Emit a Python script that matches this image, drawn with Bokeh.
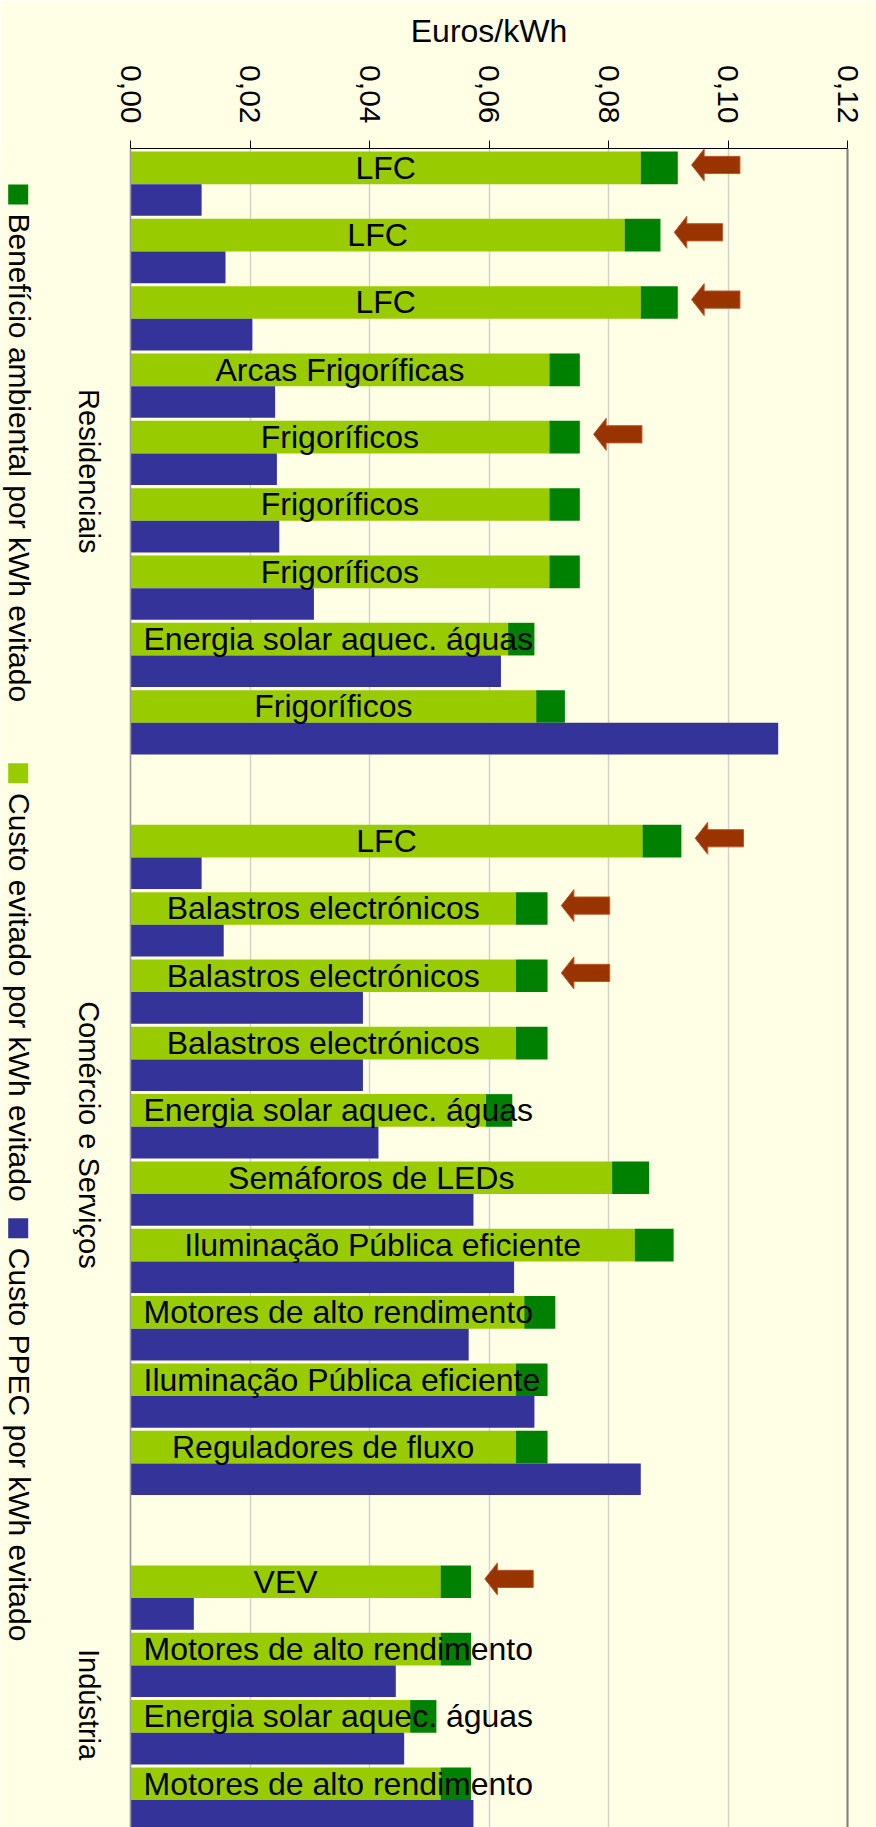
import math
from bokeh.plotting import figure
from bokeh.models import Range1d, FixedTicker, Span, ColumnDataSource, Title
from bokeh.core.properties import value
from bokeh.embed import file_html
from bokeh.resources import INLINE

# ---------------- data ----------------
GROUPS = ["Residenciais", "Comércio e Serviços", "Indústria"]
ROW_GROUP = [0] * 9 + [1] * 10 + [2] * 4
MEASURES = [
    "LFC", "LFC", "LFC", "Arcas Frigoríficas", "Frigoríficos", "Frigoríficos",
    "Frigoríficos", "Energia solar aquec. águas", "Frigoríficos",
    "LFC", "Balastros electrónicos", "Balastros electrónicos", "Balastros electrónicos",
    "Energia solar aquec. águas", "Semáforos de LEDs", "Iluminação Pública eficiente",
    "Motores de alto rendimento", "Iluminação Pública eficiente", "Reguladores de fluxo",
    "VEV", "Motores de alto rendimento", "Energia solar aquec. águas",
    "Motores de alto rendimento",
]
CUSTO_EVITADO = [
    0.0854, 0.0827, 0.0854, 0.0701, 0.0701, 0.0701, 0.0701, 0.0632, 0.0679,
    0.0857, 0.0645, 0.0645, 0.0645, 0.0595, 0.0806, 0.0844, 0.0659, 0.0645, 0.0645,
    0.0519, 0.0519, 0.0468, 0.0519,
]
BENEFICIO = [
    0.0062, 0.0060, 0.0062, 0.0051, 0.0051, 0.0051, 0.0051, 0.0044, 0.0048,
    0.0065, 0.0053, 0.0053, 0.0053, 0.0044, 0.0062, 0.0065, 0.0052, 0.0053, 0.0053,
    0.0051, 0.0051, 0.0044, 0.0051,
]
CUSTO_PPEC = [
    0.0119, 0.0159, 0.0204, 0.0242, 0.0245, 0.0249, 0.0307, 0.0620, 0.1084,
    0.0119, 0.0156, 0.0389, 0.0389, 0.0415, 0.0574, 0.0642, 0.0566, 0.0676, 0.0854,
    0.0106, 0.0444, 0.0458, 0.0574,
]
HIGHLIGHT = [
    1, 1, 1, 0, 1, 0, 0, 0, 0,
    1, 1, 1, 0, 0, 0, 0, 0, 0, 0,
    1, 0, 0, 0,
]
SERIES_NAMES = [
    "Benefício ambiental por kWh evitado",
    "Custo evitado por kWh evitado",
    "Custo PPEC por kWh evitado",
]
TICKS = [0.0, 0.02, 0.04, 0.06, 0.08, 0.10, 0.12]
TICK_LABELS = ["0,00", "0,02", "0,04", "0,06", "0,08", "0,10", "0,12"]
AXIS_TITLE = "Euros/kWh"

# ---------------- styles / layout ----------------
C_LIGHT = "#99CC00"
C_DARK = "#008000"
C_BLUE = "#333399"
C_ARROW = "#993300"
BG = "#FFFFE6"
FONT = "Liberation Sans"

W, H = 876, 1827
XPX = 717 / 0.12          # pixels per data unit along x
SLOT = 67.37              # pixels per row slot
ORIGIN_X = 130            # px of x=0
ORIGIN_Y = 150            # px of slot 0 top
TOP = 147                 # px of frame top (axis line)


def fx(px):  # pixel -> data x
    return (px - ORIGIN_X) / XPX


def fy(py):  # pixel -> slot units
    return (py - ORIGIN_Y) / SLOT


AW = {" ": 278, ".": 278, "/": 278, "A": 667, "B": 667, "C": 722, "D": 722, "E": 667,
      "F": 611, "I": 278, "L": 556, "M": 833, "P": 667, "R": 722, "S": 667, "V": 667,
      "W": 944, "c": 500, "ç": 500, "f": 278, "i": 222, "í": 278, "k": 500, "l": 222,
      "m": 833, "r": 333, "s": 500, "t": 278, "x": 500}


def text_w(s, size):
    return sum(AW.get(ch, 556) for ch in s) / 1000 * size


slots = [i + g for i, g in enumerate(ROW_GROUP)]
totals = [a + b for a, b in zip(CUSTO_EVITADO, BENEFICIO)]

p = figure(width=W, height=H, output_backend="svg", toolbar_location=None,
           x_axis_location="above", y_axis_location=None,
           x_range=Range1d(fx(0), fx(W)),
           y_range=Range1d(fy(H), fy(TOP)),
           min_border_left=0, min_border_right=0, min_border_bottom=0,
           min_border_top=TOP)
p.background_fill_color = BG
p.border_fill_color = BG
p.outline_line_color = None
p.ygrid.visible = False

# grid
p.xgrid.ticker = FixedTicker(ticks=TICKS)
p.xgrid.bounds = (0.01, 0.11)
p.xgrid.grid_line_color = "#D2D2CA"
p.xgrid.grid_line_width = 1.5
p.add_layout(Span(location=0.0, dimension="height", line_color="#9A9A9A", line_width=1.5))
p.add_layout(Span(location=TICKS[-1], dimension="height", line_color="#808080", line_width=2))

# axis
ax = p.xaxis[0]
ax.ticker = FixedTicker(ticks=TICKS)
ax.major_label_overrides = dict(zip(TICKS, TICK_LABELS))
ax.bounds = (TICKS[0], TICKS[-1])
ax.major_label_orientation = -math.pi / 2
ax.major_label_text_font = FONT
ax.major_label_text_font_size = "30px"
ax.major_label_text_color = "black"
ax.major_label_standoff = 17
ax.major_tick_out = 8
ax.major_tick_in = 0
ax.major_tick_line_color = "black"
ax.minor_tick_line_color = None
ax.axis_line_color = "black"
ax.axis_line_width = 1

# axis title, centred over the 0..0.12 span of the axis
TITLE_SIZE = 32
span_mid_px = ORIGIN_X + (TICKS[0] + TICKS[-1]) / 2 * XPX
p.add_layout(Title(text=AXIS_TITLE, align="left", vertical_align="top",
                   offset=span_mid_px - text_w(AXIS_TITLE, TITLE_SIZE) / 2,
                   text_font=FONT, text_font_size="%dpx" % TITLE_SIZE,
                   text_line_height=0.8,
                   text_font_style="normal", text_color="black", standoff=24), "above")

# bars
GH, BH = 0.485, 0.47
src = ColumnDataSource(dict(
    yg=[s + GH / 2 for s in slots],
    yb=[s + GH + BH / 2 for s in slots],
    light=CUSTO_EVITADO, total=totals, ppec=CUSTO_PPEC,
))
p.hbar(y="yg", left=0, right="light", height=GH, fill_color=C_LIGHT, line_color=None, source=src)
p.hbar(y="yg", left="light", right="total", height=GH, fill_color=C_DARK, line_color=None, source=src)
p.hbar(y="yb", left=0, right="ppec", height=BH, fill_color=C_BLUE, line_color=None, source=src)

# arrows pointing at highlighted measures
GAP, HEAD, LEN = 0.0023, 12.6 / XPX, 0.0081
HH, SH = 16 / SLOT, 8.6 / SLOT
axs, ays = [], []
for s, t, h in zip(slots, totals, HIGHLIGHT):
    if not h:
        continue
    tx = t + GAP
    cy = s + 0.20
    hx, tail = tx + HEAD, tx + LEN
    axs.append([tx, hx, hx, tail, tail, hx, hx])
    ays.append([cy, cy - HH, cy - SH, cy - SH, cy + SH, cy + SH, cy + HH])
p.patches(axs, ays, fill_color=C_ARROW, line_color="#B8592A", line_width=1)

# bar labels (centred on the light segment, or pushed to the base when too long)
LBL = 32
PAD = 13 / XPX
cx, cy_, ct, lx, ly, lt = [], [], [], [], [], []
for s, m, a in zip(slots, MEASURES, CUSTO_EVITADO):
    half = text_w(m, LBL) / 2 / XPX
    if a / 2 - half >= PAD:
        cx.append(a / 2); cy_.append(s + GH / 2); ct.append(m)
    else:
        lx.append(PAD); ly.append(s + GH / 2); lt.append(m)
common = dict(text_font=value(FONT), text_font_size="%dpx" % LBL, text_color="black",
              text_baseline="middle")
p.text(x=cx, y=cy_, text=ct, text_align="center", **common)
p.text(x=lx, y=ly, text=lt, text_align="left", **common)

# group labels (rotated)
GROUP_CENTER_PX = [470, 1134, 1704]
p.text(x=[fx(88)] * 3, y=[fy(v) for v in GROUP_CENTER_PX], text=GROUPS,
       angle=-math.pi / 2, text_align="center", text_baseline="middle",
       text_font=value(FONT), text_font_size="29px", text_color="black")

# legend (rotated)
LEG_SQ_PX = [193, 772, 1227.5]
LEG_TX_PX = [212, 792, 1247]
p.scatter(x=[fx(17.7)] * 3, y=[fy(v) for v in LEG_SQ_PX], marker="square",
          size=20, fill_color=[C_DARK, C_LIGHT, C_BLUE], line_color=None)
p.text(x=[fx(19)] * 3, y=[fy(v) for v in LEG_TX_PX], text=SERIES_NAMES,
       angle=-math.pi / 2, text_align="left", text_baseline="middle",
       text_font=value(FONT), text_font_size="30px", text_color="black")

html = file_html(p, INLINE)
html = html.replace("<body>", '<body style="background-color:%s;">' % BG, 1)
open("out.html", "w").write(html)
